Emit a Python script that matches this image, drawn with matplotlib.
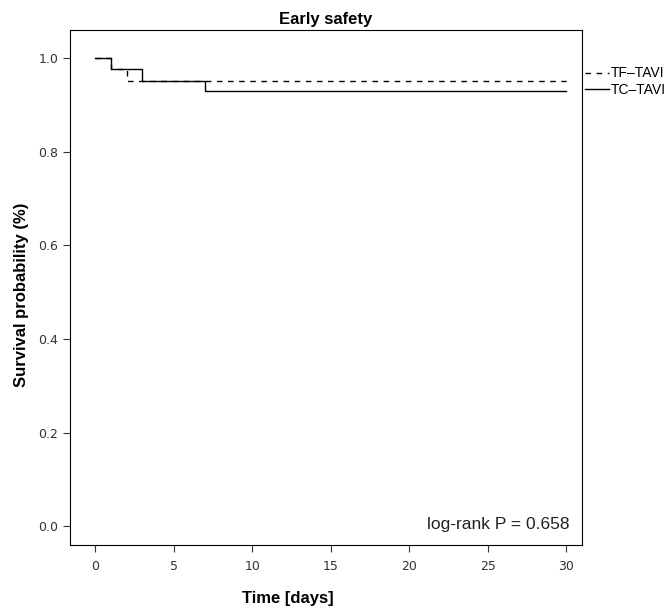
import numpy as np
import matplotlib.pyplot as plt

# Kaplan-Meier step data (time in days, survival probability)
tc_time = [0, 1, 3, 7, 30]
tc_surv = [1.0, 0.976, 0.952, 0.929, 0.929]
tf_time = [0, 1, 2, 30]
tf_surv = [1.0, 0.976, 0.952, 0.952]

x_ticks = [0, 5, 10, 15, 20, 25, 30]
y_ticks = [0.0, 0.2, 0.4, 0.6, 0.8, 1.0]


def main():
    fig = plt.figure(figsize=(6.7, 6.12), dpi=100)
    ax = fig.add_axes([0.1045, 0.1095, 0.7642, 0.8415])

    ax.step(tf_time, tf_surv, where='post', color='black', linestyle=(0, (4, 4)),
            linewidth=1.0, label='TF\u2013TAVI')
    ax.step(tc_time, tc_surv, where='post', color='black', linestyle='-',
            linewidth=1.0, label='TC\u2013TAVI')

    ax.set_xlim(-1.6, 31.0)
    ax.set_ylim(-0.04, 1.06)
    ax.set_xticks(x_ticks)
    ax.set_yticks(y_ticks)
    ax.set_yticklabels([f"{v:.1f}" for v in y_ticks])
    ax.tick_params(direction='out', length=5, labelsize=9, colors='#333333',
                   top=False, right=False)
    ax.tick_params(axis='x', pad=6)

    ax.set_title("Early safety", fontsize=12, fontweight='bold', pad=4,
                 family='Liberation Sans')
    fig.text(288 / 670, 1 - 598 / 612, "Time [days]", fontsize=12, fontweight='bold',
             family='Liberation Sans', ha='center', va='center')
    fig.text(22 / 670, 1 - 295 / 612, "Survival probability (%)", fontsize=12,
             fontweight='bold', family='Liberation Sans', rotation=90,
             ha='center', va='center')

    ax.text(0.975, 0.025, "log-rank P = 0.658", transform=ax.transAxes,
            ha='right', va='bottom', fontsize=12.5, family='Liberation Sans',
            color='#222222')

    ax.legend(loc='upper left', bbox_to_anchor=(0.995, 0.94), frameon=False,
              prop={'family': 'Liberation Sans', 'size': 10},
              handlelength=1.7, handletextpad=0.15, labelspacing=0.15,
              borderaxespad=0)

    fig.savefig("out.png", dpi=100)


if __name__ == "__main__":
    main()
